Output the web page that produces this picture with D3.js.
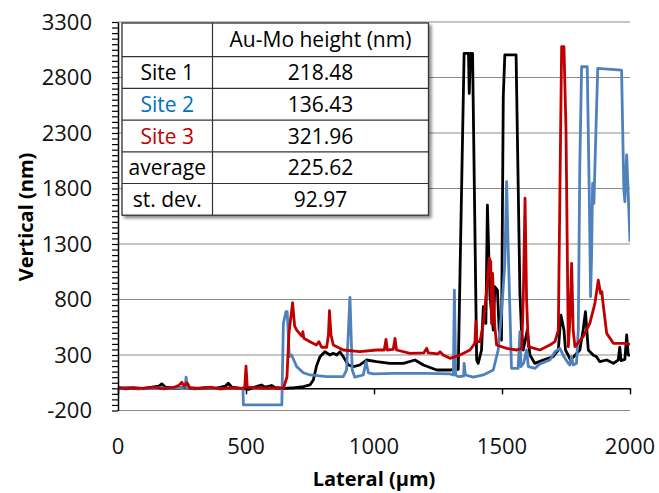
<!DOCTYPE html>
<html>
<head>
<meta charset="utf-8">
<script src="https://cdn.jsdelivr.net/npm/d3@7"></script>
<style>
  body { margin: 0; background: #fff; }
  text { font-family: "Open Sans", sans-serif; }
</style>
</head>
<body>
<div id="chart"></div>
<script>
// profile traces, [lateral um, vertical nm]
const site1 = [[0,0],[40,5],[80,-5],[120,5],[160,20],[171,40],[185,10],[220,0],[260,8],[300,-5],[340,5],[380,0],[420,20],[431,45],[445,10],[480,0],[510,-10],[540,15],[560,30],[575,10],[600,25],[615,5],[650,0],[690,5],[724,15],[750,30],[763,75],[776,205],[789,285],[808,330],[828,300],[841,315],[854,300],[867,330],[880,285],[900,210],[919,195],[945,210],[971,255],[1010,240],[1062,225],[1115,225],[1160,255],[1193,210],[1245,165],[1297,165],[1329,170],[1352,3018],[1369,3018],[1372,2657],[1377,3018],[1385,3018],[1401,255],[1407,225],[1420,345],[1427,735],[1437,585],[1443,1651],[1453,825],[1466,525],[1472,915],[1482,885],[1489,525],[1498,435],[1505,2627],[1511,3003],[1555,3003],[1570,855],[1576,525],[1583,345],[1599,525],[1609,300],[1628,225],[1661,255],[1700,285],[1720,345],[1730,660],[1742,525],[1748,345],[1768,255],[1804,345],[1817,525],[1826,690],[1837,345],[1856,300],[1869,285],[1882,240],[1909,255],[1935,225],[1954,255],[1960,370],[1965,250],[1980,260],[1987,480],[1993,300],[2000,300]];

const site2 = [[0,0],[50,5],[100,-5],[150,5],[200,0],[250,5],[262,10],[266,100],[270,5],[300,0],[350,5],[400,-5],[450,0],[488,0],[490,-150],[640,-150],[646,585],[656,690],[661,690],[669,285],[678,300],[698,195],[724,140],[750,120],[815,105],[880,105],[893,165],[906,820],[915,165],[925,100],[958,120],[969,240],[978,140],[998,130],[1075,135],[1206,135],[1297,130],[1310,120],[1314,885],[1319,120],[1329,105],[1350,110],[1352,225],[1357,120],[1388,100],[1427,120],[1466,165],[1485,345],[1498,675],[1511,1126],[1518,1862],[1524,1276],[1533,525],[1537,180],[1563,180],[1570,510],[1574,195],[1585,230],[1596,345],[1603,195],[1629,180],[1648,220],[1687,255],[1707,330],[1726,360],[1742,285],[1759,225],[1765,210],[1772,285],[1778,210],[1791,225],[1798,525],[1804,2027],[1811,2897],[1833,2897],[1841,1726],[1846,825],[1850,1200],[1854,1847],[1859,1666],[1867,2327],[1874,2883],[1967,2867],[1976,1787],[1980,1681],[1987,2102],[1991,1877],[2000,1321]];

const site3 = [[0,10],[30,-5],[60,5],[100,0],[140,10],[180,-5],[220,10],[240,30],[249,55],[258,20],[270,50],[280,5],[320,0],[360,10],[400,-5],[440,5],[480,0],[495,5],[500,200],[505,10],[540,5],[580,0],[620,5],[646,0],[660,100],[668,500],[682,771],[690,560],[698,525],[718,470],[722,510],[726,450],[750,420],[775,390],[785,420],[795,370],[815,370],[822,480],[826,700],[832,480],[841,390],[880,345],[945,330],[1010,345],[1040,345],[1047,441],[1052,345],[1075,350],[1082,450],[1088,345],[1141,315],[1195,320],[1206,360],[1212,320],[1250,310],[1258,330],[1270,300],[1297,270],[1336,300],[1375,345],[1394,405],[1398,600],[1402,420],[1414,420],[1427,585],[1440,885],[1450,1170],[1456,1140],[1459,585],[1463,1035],[1472,555],[1479,390],[1518,360],[1557,345],[1577,360],[1583,800],[1590,1712],[1596,800],[1603,375],[1648,345],[1687,390],[1707,420],[1720,525],[1729,2327],[1733,3078],[1742,3078],[1750,2327],[1759,375],[1765,600],[1772,1126],[1778,525],[1785,375],[1817,465],[1843,585],[1863,765],[1876,975],[1885,855],[1890,870],[1895,760],[1909,495],[1935,405],[1987,405],[2000,395]];

const xTicks = [0, 500, 1000, 1500, 2000];
const yTicks = [-200, 300, 800, 1300, 1800, 2300, 2800, 3300];

const tableHeader = "Au-Mo height (nm)";
const tableRows = ["Site 1", "Site 2", "Site 3", "average", "st. dev."];
const tableValues = ["218.48", "136.43", "321.96", "225.62", "92.97"];

const width = 659, height = 493;
const margin = { top: 22, right: 29, bottom: 82.5, left: 118 };

const svg = d3.select("#chart").append("svg")
  .attr("width", width)
  .attr("height", height);

const x = d3.scaleLinear().domain([0, 2000]).range([margin.left, width - margin.right]);
const y = d3.scaleLinear().domain([-200, 3300]).range([height - margin.bottom, margin.top]);

// gridlines
svg.append("g")
  .selectAll("line")
  .data(yTicks)
  .join("line")
  .attr("x1", x(0)).attr("x2", x(2000))
  .attr("y1", d => y(d)).attr("y2", d => y(d))
  .attr("stroke", "#8c8c8c")
  .attr("stroke-width", 1.2);

svg.append("defs").append("clipPath").attr("id", "clip")
  .append("rect")
  .attr("x", x(0)).attr("y", y(3300) - 2)
  .attr("width", x(2000) - x(0)).attr("height", y(-200) - y(3300) + 2);

const line = d3.line().x(d => x(d[0])).y(d => y(d[1]));

const series = [
  { data: site1, color: "#000000" },
  { data: site2, color: "#4f81bd" },
  { data: site3, color: "#c00000" }
];

// x axis at zero
const xAxis = svg.append("g")
  .attr("transform", `translate(0, ${y(0)})`)
  .call(d3.axisBottom(x).tickValues(xTicks).tickSize(6).tickFormat("").tickSizeOuter(0));
xAxis.select(".domain").attr("stroke", "#000").attr("stroke-width", 1.5);
xAxis.selectAll(".tick line").attr("stroke", "#000").attr("stroke-width", 1.5);

svg.append("g")
  .attr("clip-path", "url(#clip)")
  .selectAll("path")
  .data(series)
  .join("path")
  .attr("d", d => line(d.data))
  .attr("fill", "none")
  .attr("stroke", d => d.color)
  .attr("stroke-width", 2.8)
  .attr("stroke-linejoin", "round");

// y axis with minor ticks
const yAxis = svg.append("g")
  .attr("transform", `translate(${x(0)}, 0)`)
  .call(d3.axisLeft(y).tickValues(d3.range(-200, 3301, 50)).tickSize(6).tickFormat("").tickSizeOuter(0));
yAxis.select(".domain").attr("stroke", "#000").attr("stroke-width", 1.5);
yAxis.selectAll(".tick line").attr("stroke", "#000").attr("stroke-width", 1.2);

svg.append("g")
  .selectAll("text")
  .data(yTicks)
  .join("text")
  .attr("x", 92)
  .attr("y", d => y(d))
  .attr("dy", "0.36em")
  .attr("text-anchor", "end")
  .attr("font-size", 22)
  .attr("fill", "#111")
  .text(d => d);

svg.append("g")
  .selectAll("text")
  .data(xTicks)
  .join("text")
  .attr("x", d => x(d))
  .attr("y", 454)
  .attr("text-anchor", "middle")
  .attr("font-size", 22)
  .attr("fill", "#111")
  .text(d => d);

svg.append("text")
  .attr("transform", `translate(33, 217) rotate(-90)`)
  .attr("text-anchor", "middle")
  .attr("font-size", 20)
  .attr("font-weight", "bold")
  .text("Vertical (nm)");

svg.append("text")
  .attr("x", x(1000))
  .attr("y", 486)
  .attr("text-anchor", "middle")
  .attr("font-size", 20)
  .attr("font-weight", "bold")
  .text("Lateral (\u00b5m)");

// inset table
const tx = 122, ty = 23, col1 = 90.5, col2 = 216, rowH = 31.7, headH = 33.7;
const rowColors = ["#000", "#0070c0", "#c00000", "#000", "#000"];
const tableH = headH + rowH * tableRows.length;

const filter = svg.select("defs").append("filter").attr("id", "shadow")
  .attr("x", "-10%").attr("y", "-10%").attr("width", "120%").attr("height", "120%");
filter.append("feDropShadow").attr("dx", 2.5).attr("dy", 2.5).attr("stdDeviation", 1.5)
  .attr("flood-color", "#000").attr("flood-opacity", 0.45);

const table = svg.append("g").attr("transform", `translate(${tx}, ${ty})`);
table.append("rect")
  .attr("width", col1 + col2).attr("height", tableH)
  .attr("fill", "#fff").attr("stroke", "#333").attr("stroke-width", 1.3)
  .attr("filter", "url(#shadow)");

table.append("line")
  .attr("x1", col1).attr("x2", col1).attr("y1", 0).attr("y2", tableH)
  .attr("stroke", "#333").attr("stroke-width", 1.2);

table.selectAll(".row-line")
  .data(tableRows)
  .join("line")
  .attr("class", "row-line")
  .attr("x1", 0).attr("x2", col1 + col2)
  .attr("y1", (d, i) => headH + rowH * i).attr("y2", (d, i) => headH + rowH * i)
  .attr("stroke", "#333").attr("stroke-width", 1.2);

table.append("text")
  .attr("x", col1 + col2 / 2).attr("y", headH / 2)
  .attr("dy", "0.36em").attr("text-anchor", "middle")
  .attr("font-size", 21).attr("fill", "#000")
  .text(tableHeader);

table.selectAll(".row-name")
  .data(tableRows)
  .join("text")
  .attr("class", "row-name")
  .attr("x", col1 / 2).attr("y", (d, i) => headH + rowH * i + rowH / 2)
  .attr("dy", "0.36em").attr("text-anchor", "middle")
  .attr("font-size", 21).attr("fill", (d, i) => rowColors[i])
  .text(d => d);

table.selectAll(".row-val")
  .data(tableValues)
  .join("text")
  .attr("class", "row-val")
  .attr("x", col1 + col2 / 2).attr("y", (d, i) => headH + rowH * i + rowH / 2)
  .attr("dy", "0.36em").attr("text-anchor", "middle")
  .attr("font-size", 21).attr("fill", "#000")
  .text(d => d);
</script>
</body>
</html>
